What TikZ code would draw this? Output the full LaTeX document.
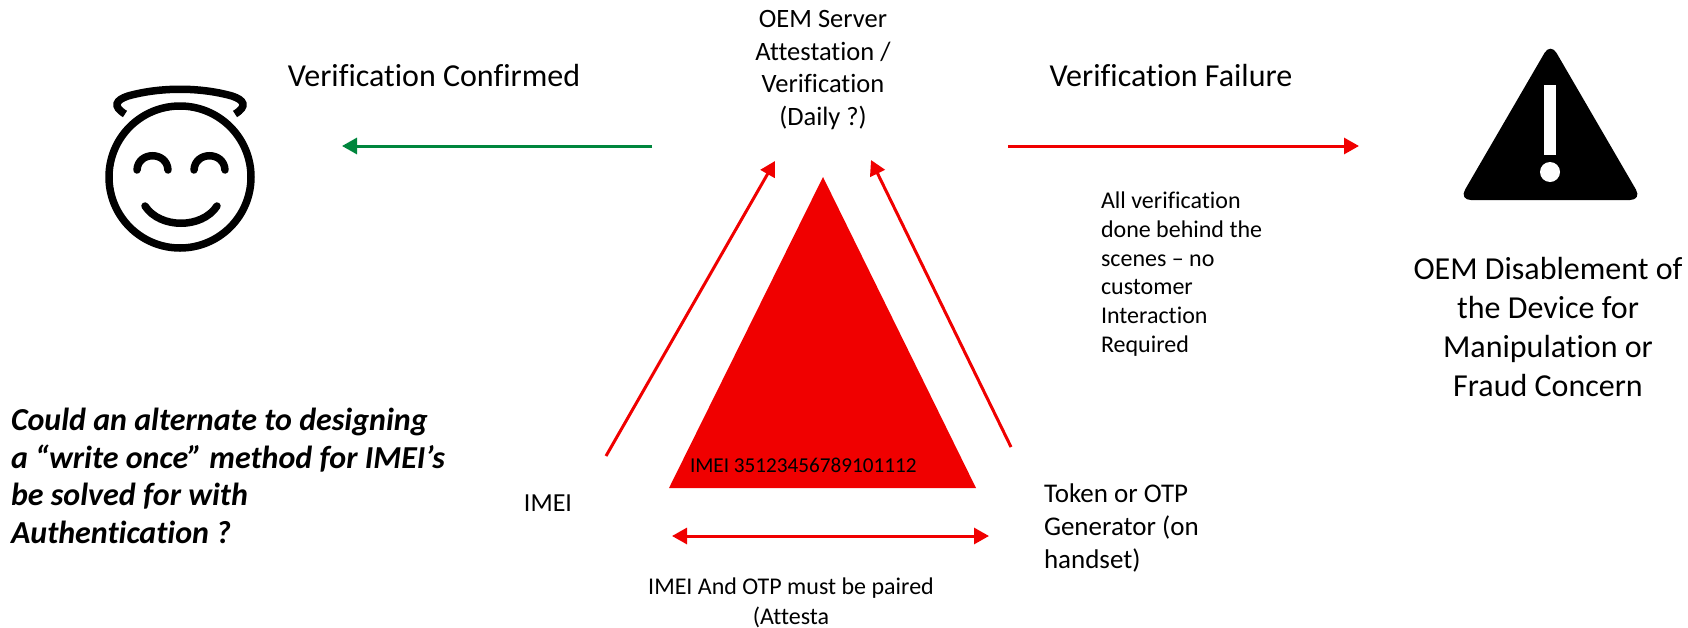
\documentclass[tikz,border=0pt]{standalone}
\usepackage{fontspec}
\setmainfont{Carlito}[Ligatures=CommonOff]
\usetikzlibrary{arrows.meta}
\definecolor{alertred}{HTML}{F00000}
\definecolor{okgreen}{HTML}{00863D}
\newcommand{\fsz}[2]{\fontsize{#1}{#2}\selectfont}
\tikzset{
  label/.style={inner sep=0pt,outer sep=0pt,text=black},
  arrowline/.style={line width=3pt,-{Triangle[length=15pt,width=16pt]}},
  doublearrow/.style={line width=3pt,{Triangle[length=15pt,width=16pt]}-{Triangle[length=15pt,width=16pt]}},
  iconline/.style={line width=7.5pt,line cap=round,black}
}
\begin{document}
\begin{tikzpicture}[x=1pt,y=-1pt]
\useasboundingbox (0,0) rectangle (1688,627);
% central triangle
\fill[alertred] (823,177) -- (976,488) -- (669,488) -- cycle;
% coordinates
\coordinate (gs) at (652,146); \coordinate (ge) at (342,146);
\coordinate (rs) at (1008,146); \coordinate (re) at (1359,146);
\coordinate (ls) at (606,456); \coordinate (le) at (775,161);
\coordinate (ts) at (1011,447); \coordinate (te) at (871,160);
\coordinate (da) at (672,536); \coordinate (db) at (989,536);
\draw[arrowline,okgreen] (gs) -- (ge);
\draw[arrowline,alertred] (rs) -- (re);
\draw[arrowline,alertred] (ls) -- (le);
\draw[arrowline,alertred] (ts) -- (te);
\draw[doublearrow,alertred] (da) -- (db);
% texts
\node[label,font=\fsz{32}{38}] (confirmed) at (434,76) {Verification Confirmed};
\node[label,font=\fsz{32}{38}] (failure) at (1171,76) {Verification Failure};
\node[label,align=center,font=\fsz{26.5}{32.5}] (oem) at (823,70) {OEM Server\\Attestation /\\Verification\\(Daily ?)};
\node[label,align=left,anchor=west,font=\fsz{24}{28.7}] (behind) at (1101,274) {All verification\\done behind the\\scenes – no\\customer\\Interaction\\Required};
\node[label,align=center,font=\fsz{32}{39.3}] (disable) at (1548,327) {OEM Disablement of\\the Device for\\Manipulation or\\Fraud Concern};
\node[label,align=left,anchor=west,font=\fsz{32}{37.7}\bfseries\itshape] (could) at (11,476) {Could an alternate to designing\\a “write once” method for IMEI’s\\be solved for with\\Authentication ?};
\node[label,font=\fsz{26}{31}] (imei) at (548,503) {IMEI};
\node[label,align=left,anchor=west,font=\fsz{27}{33}] (token) at (1044,528) {Token or OTP\\Generator (on\\handset)};
\node[label,anchor=west,font=\fsz{21.2}{26}] (number) at (690,465) {IMEI 35123456789101112};
\node[label,align=center,font=\fsz{24}{29.5}] (paired) at (791,603) {IMEI And OTP must be paired\\(Attesta};
% angel icon
\draw[iconline] (180,177) circle (71);
\draw[iconline,line cap=butt] (125,114) .. controls (112,106) and (116,100) .. (128,96) .. controls (160,87) and (200,87) .. (232,96) .. controls (244,100) and (248,106) .. (235,114);
\draw[iconline] (137,170) .. controls (138,151) and (167,151) .. (168,170);
\draw[iconline] (194,170) .. controls (195,151) and (224,151) .. (225,170);
\draw[iconline] (145,206) .. controls (160,229) and (202,229) .. (217,206);
% warning icon
\fill[black,rounded corners=12pt] (1550.5,42.6) -- (1642,200) -- (1459,200) -- cycle;
\fill[white] (1544,85) rectangle (1556,155);
\fill[white] (1550,172) circle (10);
\end{tikzpicture}
\end{document}
